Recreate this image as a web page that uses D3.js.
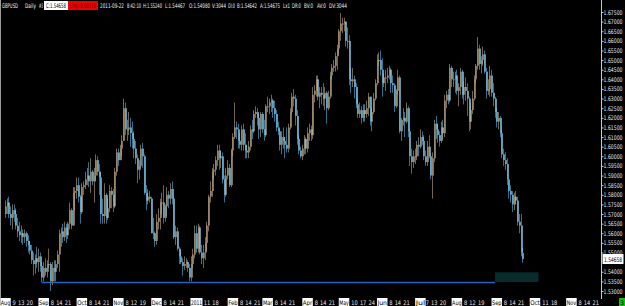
<!DOCTYPE html>
<html>
<head>
<meta charset="utf-8">
<script src="https://cdn.jsdelivr.net/npm/d3@7"></script>
<style>
html, body { margin: 0; padding: 0; background: #000; overflow: hidden; }
svg { display: block; }
text { font-family: "Liberation Sans Narrow", "DejaVu Sans Condensed", sans-serif; }
</style>
</head>
<body>
<div id="chart"></div>
<script>
// GBPUSD daily bars, 2 Aug 2010 - 22 Sep 2011, one week per row
var opens = [
  1.5700,1.5740,1.5760,1.5700,1.5680, 1.5720,1.5700,1.5640,1.5610,1.5590, 1.5600,1.5580,1.5600,1.5560,1.5540,
  1.5510,1.5460,1.5440,1.5470,1.5450, 1.5480,1.5430,1.5370,1.5420,1.5400, 1.5440,1.5440,1.5350,1.5420,1.5400,
  1.5440,1.5490,1.5600,1.5610,1.5580, 1.5630,1.5590,1.5650,1.5720,1.5640, 1.5810,1.5820,1.5850,1.5790,1.5710,
  1.5840,1.5850,1.5880,1.5900,1.5870, 1.5920,1.5870,1.5900,1.5980,1.5920, 1.5890,1.5700,1.5690,1.5800,1.5680,
  1.5730,1.5820,1.5800,1.5740,1.5920, 1.6020,1.5980,1.6040,1.6080,1.6250, 1.6140,1.6140,1.6150,1.6120,1.6090,
  1.6040,1.5990,1.5930,1.5950,1.6040, 1.6000,1.5810,1.5770,1.5790,1.5780, 1.5600,1.5600,1.5560,1.5660,1.5680,
  1.5760,1.5760,1.5680,1.5740,1.5800, 1.5780,1.5830,1.5780,1.5580,1.5610, 1.5520,1.5480,1.5450,1.5430,1.5440,
  1.5450,1.5420,1.5370,1.5440,1.5490, 1.5600,1.5520,1.5630,1.5500,1.5470, 1.5500,1.5550,1.5640,1.5790,1.5820,
  1.5920,1.5930,1.5980,1.6030,1.5990, 1.6000,1.5880,1.5800,1.5900,1.5940, 1.5850,1.6030,1.6100,1.6150,1.6140,
  1.6080,1.6060,1.6140,1.6060,1.6030, 1.6020,1.6050,1.6140,1.6130,1.6220, 1.6230,1.6200,1.6140,1.6220,1.6140,
  1.6110,1.6260,1.6260,1.6280,1.6290, 1.6250,1.6220,1.6150,1.6130,1.6060, 1.6100,1.6080,1.6060,1.6040,1.6150,
  1.6230,1.6310,1.6300,1.6210,1.6090, 1.6030,1.6000,1.6040,1.6090,1.6040, 1.6120,1.6140,1.6110,1.6320,1.6340,
  1.6400,1.6310,1.6330,1.6320,1.6300, 1.6330,1.6250,1.6310,1.6420,1.6460, 1.6470,1.6520,1.6560,1.6650,1.6690,
  1.6690,1.6700,1.6600,1.6600,1.6400, 1.6390,1.6400,1.6360,1.6270,1.6220, 1.6240,1.6200,1.6240,1.6220,1.6250,
  1.6310,1.6180,1.6230,1.6300,1.6380, 1.6500,1.6500,1.6450,1.6380,1.6410, 1.6410,1.6420,1.6450,1.6380,1.6370,
  1.6260,1.6340,1.6410,1.6130,1.6190, 1.6200,1.6180,1.6250,1.6130,1.6000, 1.5970,1.6000,1.6000,1.6060,1.6050,
  1.6100,1.6080,1.6000,1.5970,1.6050, 1.6000,1.5900,1.5990,1.6170,1.6140, 1.6110,1.6080,1.6150,1.6120,1.6290,
  1.6320,1.6290,1.6460,1.6400,1.6400, 1.6420,1.6340,1.6360,1.6440,1.6320, 1.6360,1.6340,1.6300,1.6180,1.6240,
  1.6300,1.6400,1.6470,1.6560,1.6480, 1.6500,1.6530,1.6440,1.6340,1.6350, 1.6420,1.6330,1.6300,1.6230,1.6180,
  1.6200,1.6120,1.6010,1.5980,1.5960, 1.5880,1.5820,1.5800,1.5750,1.5790, 1.5770,1.5660,1.5640,1.54980
];
var highs = [
  1.5770,1.5780,1.5790,1.5740,1.5750, 1.5750,1.5730,1.5680,1.5660,1.5640, 1.5620,1.5620,1.5610,1.5590,1.5560,
  1.5540,1.5500,1.5490,1.5530,1.5520, 1.5500,1.5450,1.5450,1.5470,1.5460, 1.5520,1.5450,1.5450,1.5460,1.5460,
  1.5510,1.5620,1.5630,1.5650,1.5660, 1.5650,1.5660,1.5760,1.5730,1.5840, 1.5840,1.5890,1.5890,1.5800,1.5860,
  1.5870,1.5920,1.5940,1.5970,1.5990, 1.5930,1.5940,1.6010,1.6000,1.5960, 1.5920,1.5780,1.5860,1.5810,1.5780,
  1.5850,1.5840,1.5830,1.5940,1.6040, 1.6040,1.6060,1.6110,1.6300,1.6280, 1.6190,1.6230,1.6200,1.6180,1.6130,
  1.6080,1.6010,1.5980,1.6060,1.6070, 1.6010,1.5850,1.5830,1.5820,1.5790, 1.5680,1.5610,1.5700,1.5730,1.5780,
  1.5810,1.5850,1.5750,1.5840,1.5820, 1.5860,1.5870,1.5790,1.5640,1.5630, 1.5530,1.5510,1.5470,1.5480,1.5470,
  1.5460,1.5440,1.5480,1.5520,1.5640, 1.5640,1.5650,1.5640,1.5540,1.5540, 1.5580,1.5660,1.5800,1.5870,1.5940,
  1.5960,1.6000,1.6060,1.6060,1.6030, 1.6020,1.5900,1.5940,1.5980,1.5960, 1.6040,1.6120,1.6280,1.6180,1.6170,
  1.6120,1.6160,1.6170,1.6120,1.6060, 1.6080,1.6160,1.6190,1.6240,1.6260, 1.6250,1.6220,1.6230,1.6230,1.6190,
  1.6270,1.6310,1.6300,1.6320,1.6300, 1.6290,1.6240,1.6180,1.6140,1.6130, 1.6150,1.6100,1.6150,1.6170,1.6250,
  1.6330,1.6350,1.6320,1.6240,1.6110, 1.6050,1.6060,1.6110,1.6100,1.6150, 1.6170,1.6160,1.6360,1.6370,1.6420,
  1.6420,1.6360,1.6360,1.6380,1.6360, 1.6340,1.6340,1.6440,1.6480,1.6500, 1.6540,1.6580,1.6660,1.6745,1.6720,
  1.6720,1.6700,1.6670,1.6630,1.6460, 1.6460,1.6420,1.6380,1.6300,1.6280, 1.6260,1.6270,1.6270,1.6290,1.6330,
  1.6310,1.6250,1.6330,1.6400,1.6530, 1.6540,1.6550,1.6510,1.6430,1.6450, 1.6460,1.6470,1.6460,1.6420,1.6380,
  1.6350,1.6450,1.6420,1.6200,1.6250, 1.6230,1.6280,1.6260,1.6140,1.6040, 1.6030,1.6040,1.6080,1.6100,1.6140,
  1.6130,1.6110,1.6030,1.6080,1.6110, 1.6010,1.6020,1.6190,1.6210,1.6170, 1.6130,1.6180,1.6190,1.6320,1.6340,
  1.6350,1.6480,1.6470,1.6440,1.6440, 1.6450,1.6380,1.6460,1.6450,1.6390, 1.6410,1.6380,1.6310,1.6280,1.6340,
  1.6420,1.6480,1.6620,1.6580,1.6520, 1.6570,1.6550,1.6460,1.6400,1.6470, 1.6450,1.6380,1.6310,1.6250,1.6230,
  1.6210,1.6140,1.6040,1.6020,1.5990, 1.5880,1.5850,1.5820,1.5810,1.5820, 1.5790,1.5700,1.5700,1.55240
];
var lows = [
  1.5680,1.5700,1.5680,1.5640,1.5620, 1.5660,1.5620,1.5580,1.5560,1.5550, 1.5540,1.5550,1.5530,1.5500,1.5490,
  1.5440,1.5380,1.5390,1.5420,1.5400, 1.5400,1.5345,1.5350,1.5380,1.5370, 1.5420,1.5300,1.5330,1.5350,1.5350,
  1.5420,1.5400,1.5530,1.5550,1.5560, 1.5550,1.5570,1.5620,1.5620,1.5640, 1.5720,1.5780,1.5760,1.5650,1.5700,
  1.5800,1.5830,1.5850,1.5840,1.5810, 1.5850,1.5760,1.5870,1.5900,1.5800, 1.5650,1.5650,1.5650,1.5650,1.5670,
  1.5710,1.5730,1.5710,1.5730,1.5900, 1.5950,1.5980,1.6000,1.6080,1.6110, 1.6080,1.6110,1.6050,1.6040,1.5990,
  1.5960,1.5860,1.5880,1.5940,1.5940, 1.5800,1.5720,1.5750,1.5760,1.5600, 1.5570,1.5530,1.5540,1.5620,1.5620,
  1.5700,1.5650,1.5660,1.5690,1.5730, 1.5750,1.5750,1.5570,1.5540,1.5510, 1.5440,1.5440,1.5380,1.5410,1.5420,
  1.5400,1.5350,1.5350,1.5420,1.5470, 1.5500,1.5500,1.5490,1.5440,1.5420, 1.5460,1.5510,1.5610,1.5760,1.5790,
  1.5880,1.5900,1.5950,1.5930,1.5940, 1.5860,1.5760,1.5790,1.5880,1.5840, 1.5840,1.6000,1.6090,1.6090,1.6040,
  1.6040,1.6030,1.6030,1.5990,1.5990, 1.5990,1.6030,1.6090,1.6120,1.6200, 1.6160,1.6090,1.6100,1.6120,1.6080,
  1.6100,1.6230,1.6220,1.6230,1.6200, 1.6180,1.6130,1.6110,1.6030,1.6010, 1.6040,1.5990,1.6020,1.6020,1.6140,
  1.6220,1.6260,1.6160,1.6060,1.6010, 1.5990,1.5980,1.6010,1.6010,1.6020, 1.6080,1.6080,1.6090,1.6280,1.6310,
  1.6290,1.6250,1.6270,1.6260,1.6240, 1.6170,1.6240,1.6300,1.6400,1.6440, 1.6440,1.6450,1.6530,1.6600,1.6640,
  1.6650,1.6570,1.6560,1.6370,1.6330, 1.6360,1.6300,1.6250,1.6200,1.6200, 1.6170,1.6180,1.6180,1.6200,1.6210,
  1.6160,1.6130,1.6220,1.6290,1.6370, 1.6470,1.6420,1.6310,1.6360,1.6340, 1.6380,1.6400,1.6330,1.6330,1.6230,
  1.6250,1.6320,1.6120,1.6080,1.6160, 1.6100,1.6170,1.6100,1.5950,1.5910, 1.5940,1.5960,1.5980,1.6000,1.6040,
  1.6060,1.5980,1.5950,1.5950,1.5990, 1.5880,1.5780,1.5970,1.6090,1.6070, 1.6050,1.6070,1.6090,1.6100,1.6250,
  1.6270,1.6280,1.6360,1.6360,1.6330, 1.6320,1.6260,1.6320,1.6300,1.6270, 1.6290,1.6210,1.6130,1.6140,1.6220,
  1.6290,1.6380,1.6450,1.6450,1.6430, 1.6470,1.6430,1.6300,1.6320,1.6310, 1.6310,1.6260,1.6200,1.6150,1.6140,
  1.6100,1.5990,1.5950,1.5930,1.5850, 1.5780,1.5760,1.5710,1.5720,1.5750, 1.5640,1.5600,1.5480,1.54467
];
var closes = [
  1.5740,1.5760,1.5700,1.5680,1.5720, 1.5700,1.5640,1.5610,1.5590,1.5600, 1.5580,1.5600,1.5560,1.5540,1.5510,
  1.5460,1.5440,1.5470,1.5450,1.5480, 1.5430,1.5370,1.5420,1.5400,1.5440, 1.5440,1.5350,1.5420,1.5400,1.5440,
  1.5490,1.5600,1.5610,1.5580,1.5630, 1.5590,1.5650,1.5720,1.5640,1.5810, 1.5820,1.5850,1.5790,1.5710,1.5840,
  1.5850,1.5880,1.5900,1.5870,1.5920, 1.5870,1.5900,1.5980,1.5920,1.5890, 1.5700,1.5690,1.5800,1.5680,1.5730,
  1.5820,1.5800,1.5740,1.5920,1.6020, 1.5980,1.6040,1.6080,1.6250,1.6140, 1.6140,1.6150,1.6120,1.6090,1.6040,
  1.5990,1.5930,1.5950,1.6040,1.6000, 1.5810,1.5770,1.5790,1.5780,1.5600, 1.5600,1.5560,1.5660,1.5680,1.5760,
  1.5760,1.5680,1.5740,1.5800,1.5780, 1.5830,1.5780,1.5580,1.5610,1.5520, 1.5480,1.5450,1.5430,1.5440,1.5450,
  1.5420,1.5370,1.5440,1.5490,1.5600, 1.5520,1.5630,1.5500,1.5470,1.5500, 1.5550,1.5640,1.5790,1.5820,1.5920,
  1.5930,1.5980,1.6030,1.5990,1.6000, 1.5880,1.5800,1.5900,1.5940,1.5850, 1.6030,1.6100,1.6150,1.6140,1.6080,
  1.6060,1.6140,1.6060,1.6030,1.6020, 1.6050,1.6140,1.6130,1.6220,1.6230, 1.6200,1.6140,1.6220,1.6140,1.6110,
  1.6260,1.6260,1.6280,1.6290,1.6250, 1.6220,1.6150,1.6130,1.6060,1.6100, 1.6080,1.6060,1.6040,1.6150,1.6230,
  1.6310,1.6300,1.6210,1.6090,1.6030, 1.6000,1.6040,1.6090,1.6040,1.6120, 1.6140,1.6110,1.6320,1.6340,1.6400,
  1.6310,1.6330,1.6320,1.6300,1.6330, 1.6250,1.6310,1.6420,1.6460,1.6470, 1.6520,1.6560,1.6650,1.6690,1.6690,
  1.6700,1.6600,1.6600,1.6400,1.6390, 1.6400,1.6360,1.6270,1.6220,1.6240, 1.6200,1.6240,1.6220,1.6250,1.6310,
  1.6180,1.6230,1.6300,1.6380,1.6500, 1.6500,1.6450,1.6380,1.6410,1.6410, 1.6420,1.6450,1.6380,1.6370,1.6260,
  1.6340,1.6410,1.6130,1.6190,1.6200, 1.6180,1.6250,1.6130,1.6000,1.5970, 1.6000,1.6000,1.6060,1.6050,1.6100,
  1.6080,1.6000,1.5970,1.6050,1.6000, 1.5900,1.5990,1.6170,1.6140,1.6110, 1.6080,1.6150,1.6120,1.6290,1.6320,
  1.6290,1.6460,1.6400,1.6400,1.6420, 1.6340,1.6360,1.6440,1.6320,1.6360, 1.6340,1.6300,1.6180,1.6240,1.6300,
  1.6400,1.6470,1.6560,1.6480,1.6500, 1.6530,1.6440,1.6340,1.6350,1.6420, 1.6330,1.6300,1.6230,1.6180,1.6200,
  1.6120,1.6010,1.5980,1.5960,1.5880, 1.5820,1.5800,1.5750,1.5790,1.5770, 1.5660,1.5640,1.5500,1.54658
];

var firstDay = "2010-08-02";
var lastAxisDay = "2011-11-25";

// 1.54500 is hidden behind the current price label
var priceTicks = [1.675, 1.670, 1.665, 1.660, 1.655, 1.650, 1.645, 1.640, 1.635, 1.630,
                  1.625, 1.620, 1.615, 1.610, 1.605, 1.600, 1.595, 1.590, 1.585, 1.580,
                  1.575, 1.570, 1.565, 1.560, 1.555, 1.550, 1.540, 1.535, 1.530];

var dateTicks = ["2010-08-02","2010-08-09","2010-08-13","2010-08-20","2010-09-01","2010-09-08","2010-09-14","2010-09-21",
  "2010-10-01","2010-10-08","2010-10-14","2010-10-21","2010-11-01","2010-11-08","2010-11-12","2010-11-19",
  "2010-12-01","2010-12-08","2010-12-14","2010-12-21","2011-01-03","2011-01-11","2011-01-18",
  "2011-02-01","2011-02-08","2011-02-14","2011-02-21","2011-03-01","2011-03-08","2011-03-14","2011-03-21",
  "2011-04-01","2011-04-08","2011-04-14","2011-04-21","2011-05-02","2011-05-10","2011-05-17","2011-05-24",
  "2011-06-01","2011-06-08","2011-06-14","2011-06-21","2011-07-01","2011-07-07","2011-07-13","2011-07-20",
  "2011-08-01","2011-08-08","2011-08-12","2011-08-19","2011-09-01","2011-09-08","2011-09-14","2011-09-21",
  "2011-10-03","2011-10-11","2011-10-18","2011-11-01","2011-11-08","2011-11-14","2011-11-21"];
var dateLabels = ["Aug","9","13","20","Sep","8","14","21","Oct","8","14","21","Nov","8","12","19",
  "Dec","8","14","21","2011","11","18","Feb","8","14","21","Mar","8","14","21",
  "Apr","8","14","21","May","10","17","24","Jun","8","14","21","Jul","7","13","20",
  "Aug","8","12","19","Sep","8","14","21","Oct","11","18","Nov","8","14","21"];

// support line and zone drawn on the chart
var supportLevel = 1.5347;
var supportFrom = "2010-08-31", supportTo = "2011-08-31";
var zoneTop = 1.5397, zoneBottom = 1.5347;
var zoneFrom = "2011-08-31", zoneTo = "2011-10-05";

var headerParts = [
  {t: "GBPUSD", x: 2, w: 16}, {t: "Daily", x: 25, w: 11}, {t: "#3", x: 39, w: 4},
  {t: "C:1.54658", x: 46, w: 20, box: "c"}, {t: "Chg:-0.00316", x: 70, w: 26, box: "chg"},
  {t: "2011-09-22", x: 100, w: 24}, {t: "8:42:10", x: 127, w: 14}, {t: "H:1.55240", x: 143, w: 19},
  {t: "L:1.54467", x: 165, w: 20}, {t: "O:1.54980", x: 189, w: 21}, {t: "V:3044", x: 212, w: 14},
  {t: "OI:0", x: 228, w: 7}, {t: "B:1.54642", x: 237, w: 20}, {t: "A:1.54675", x: 260, w: 20},
  {t: "Lx1", x: 283, w: 7}, {t: "DR:0", x: 292, w: 9}, {t: "BV:0", x: 304, w: 9},
  {t: "AV:0", x: 317, w: 9}, {t: "DV:3044", x: 329, w: 18}
];

var W = 625, H = 306;
var plotRight = 601, plotBottom = 297;
var fs = "6.3px";

var svg = d3.select("#chart").append("svg").attr("width", W).attr("height", H);
svg.append("rect").attr("width", W).attr("height", H).attr("fill", "#000");

// trading days (weekdays) for the x axis
var days = d3.timeDay.range(new Date(firstDay + "T00:00"), d3.timeDay.offset(new Date(lastAxisDay + "T00:00"), 1))
  .filter(function(d) { return d.getDay() !== 0 && d.getDay() !== 6; })
  .map(d3.timeFormat("%Y-%m-%d"));

var x = d3.scalePoint().domain(days).range([5.5, 5.5 + (days.length - 1) * 1.736]);
var y = d3.scaleLinear().domain([1.530, 1.675]).range([291, 12]);

var bars = opens.map(function(o, i) {
  return {d: days[i], o: o, h: highs[i], l: lows[i], c: closes[i]};
});

var plot = svg.append("g");
plot.append("clipPath").attr("id", "clip").append("rect")
  .attr("x", 1).attr("y", 0).attr("width", plotRight - 1).attr("height", plotBottom);
var g = plot.append("g").attr("clip-path", "url(#clip)");

// zone + support line
g.append("rect")
  .attr("x", x(zoneFrom)).attr("width", x(zoneTo) - x(zoneFrom))
  .attr("y", y(zoneTop)).attr("height", y(zoneBottom) - y(zoneTop))
  .attr("fill", "#082c2c");
g.append("line")
  .attr("x1", x(supportFrom)).attr("x2", x(supportTo))
  .attr("y1", Math.round(y(supportLevel)) + 0.5).attr("y2", Math.round(y(supportLevel)) + 0.5)
  .attr("stroke", "#1f62c8").attr("stroke-width", 1.3);

// wicks
g.selectAll("rect.wick").data(bars).enter().append("rect")
  .attr("class", "wick")
  .attr("x", function(d) { return Math.floor(x(d.d)); })
  .attr("width", 1)
  .attr("y", function(d) { return y(d.h); })
  .attr("height", function(d) { return Math.max(1, y(d.l) - y(d.h)); })
  .attr("fill", function(d) { return d.c >= d.o ? "#74654f" : "#336f8e"; });

// bodies
g.selectAll("rect.body").data(bars).enter().append("rect")
  .attr("class", "body")
  .attr("x", function(d) { return Math.floor(x(d.d)) + 0.5; })
  .attr("width", 1.2)
  .attr("y", function(d) { return y(Math.max(d.o, d.c)); })
  .attr("height", function(d) { return Math.max(1, Math.abs(y(d.o) - y(d.c))); })
  .attr("fill", function(d) { return d.c >= d.o ? "#bba380" : "#8ed6f6"; });

// frame lines
svg.append("line").attr("x1", 0.5).attr("x2", 0.5).attr("y1", 0).attr("y2", plotBottom + 1)
  .attr("stroke", "#9a9a9a");
svg.append("line").attr("x1", plotRight + 0.5).attr("x2", plotRight + 0.5).attr("y1", 0).attr("y2", plotBottom + 2)
  .attr("stroke", "#c8c8c8");

// price axis
var yAxis = svg.append("g").attr("transform", "translate(" + (plotRight + 0.5) + ",0)")
  .call(d3.axisRight(y).tickValues(priceTicks).tickFormat(d3.format(".5f")).tickSize(2).tickPadding(0));
yAxis.select(".domain").remove();
yAxis.selectAll(".tick line").attr("stroke", "#c8c8c8");
yAxis.selectAll(".tick text").attr("fill", "#e8e8e8").style("font-size", fs)
  .attr("textLength", 19).attr("lengthAdjust", "spacingAndGlyphs");

// current price label
var last = closes[closes.length - 1];
var cp = svg.append("g").attr("transform", "translate(603," + Math.round(y(last)) + ")");
cp.append("rect").attr("x", 0).attr("y", -4.5).attr("width", 20).attr("height", 9)
  .attr("fill", "#fff").attr("stroke", "#fff");
cp.append("text").attr("x", 1).attr("y", 2.5).attr("fill", "#000").style("font-size", fs)
  .attr("textLength", 18).attr("lengthAdjust", "spacingAndGlyphs").text(d3.format(".5f")(last));

// date axis
var xt = svg.append("g").selectAll("g").data(dateTicks).enter().append("g")
  .attr("transform", function(d) { return "translate(" + x(d) + ",0)"; });
xt.each(function(d, i) {
  var s = d3.select(this), lab = dateLabels[i];
  var isMonth = isNaN(+lab) || lab.length === 4;
  var w = lab.length === 4 ? 11 : (isMonth ? 9.5 : lab.length * 3.2);
  if (isMonth) {
    s.append("rect").attr("x", -w / 2 - 0.5).attr("y", 298).attr("width", w + 1).attr("height", 8).attr("fill", "#fff");
  }
  s.append("text").attr("text-anchor", "middle").attr("y", 305)
    .attr("fill", isMonth ? "#000" : "#e8e8e8").style("font-size", fs)
    .attr("textLength", w).attr("lengthAdjust", "spacingAndGlyphs").text(lab);
});

// green marker bottom-right
svg.append("rect").attr("x", 619).attr("y", 298).attr("width", 6).attr("height", 8).attr("fill", "#11c011");
svg.append("text").attr("x", 622).attr("y", 305).attr("text-anchor", "middle").attr("fill", "#000")
  .style("font-size", fs).text("3");

// header
var hd = svg.append("g");
headerParts.forEach(function(p) {
  if (p.box === "c") {
    hd.append("rect").attr("x", p.x - 1.5).attr("y", 1.5).attr("width", p.w + 3).attr("height", 8)
      .attr("fill", "#fff").attr("stroke", "#fff");
  } else if (p.box === "chg") {
    hd.append("rect").attr("x", p.x - 2).attr("y", 1).attr("width", p.w + 4).attr("height", 9).attr("fill", "#ee0000");
  }
  hd.append("text").attr("x", p.x).attr("y", 8).style("font-size", fs)
    .attr("fill", p.box === "c" ? "#000" : (p.box === "chg" ? "#600000" : "#f0f0f0"))
    .attr("textLength", p.w).attr("lengthAdjust", "spacingAndGlyphs").text(p.t);
});
</script>
</body>
</html>
